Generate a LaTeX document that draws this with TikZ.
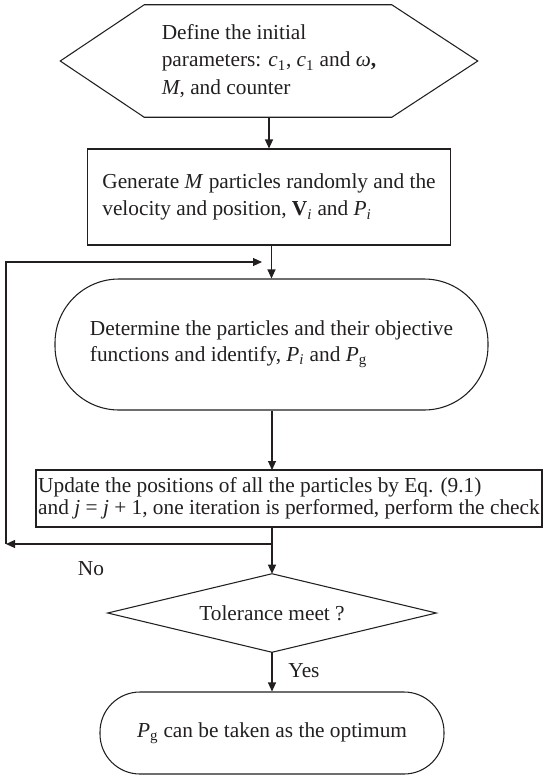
\documentclass[tikz,border=0pt]{standalone}
\usepackage{fontspec}
\setmainfont{Liberation Serif}
\usetikzlibrary{arrows.meta,shapes.misc}
\newlength\px
\setlength\px{0.75pt}
\definecolor{ink}{HTML}{231F20}
\tikzset{
  every node/.style={text=ink, inner sep=0pt, font=\fontsize{16}{20.5}\selectfont},
  line/.style={draw=ink, line width=0.8pt},
  arr/.style={line, -{Triangle[length=6.75pt,width=6pt]}},
  plainbox/.style={line, rectangle, align=left},
  roundbox/.style={line, rectangle, rounded corners=#1, align=left},
  shapebox/.style={rectangle, align=left},
  lbl/.style={}
}
\begin{document}
\begin{tikzpicture}[x=0.75pt, y=-0.75pt]
  \useasboundingbox (0,0) rectangle (544,776);

  % start: hexagon holding the initial parameters
  \node[shapebox, minimum width=417\px, minimum height=112\px] (hex) at (269,61)
    {Define the initial\\parameters: \textit{c}\textsubscript{1}, \textit{c}\textsubscript{1} and \textit{ω}\textbf{,}\\\textit{M}, and counter};
  \draw[line] (hex.west) -- ([xshift=84\px]hex.north west) -- ([xshift=-86\px]hex.north east)
    -- (hex.east) -- ([xshift=-86\px]hex.south east) -- ([xshift=84\px]hex.south west) -- cycle;

  % particle generation
  \node[plainbox, minimum width=363\px, minimum height=96\px] (gen) at (269,197)
    {Generate \textit{M} particles randomly and the\\velocity and position, \textbf{V}\textsubscript{\textit{i}} and \textit{P}\textsubscript{\textit{i}}};

  % evaluation of the objective functions
  \node[roundbox=48pt, minimum width=433\px, minimum height=131\px,
        font=\fontsize{16}{19}\selectfont] (det) at (271.5,344.5)
    {Determine the particles and their objective\\functions and identify, \textit{P}\textsubscript{\textit{i}} and \textit{P}\textsubscript{g}};

  % position update
  \node[plainbox, minimum width=506\px, minimum height=57\px,
        font=\fontsize{16}{16.5}\selectfont] (upd) at (289,498.5)
    {Update the positions of all the particles by Eq. (9.1)\\and \textit{j} = \textit{j} + 1, one iteration is performed, perform the check};

  % convergence test
  \node[shapebox, minimum width=328\px, minimum height=78\px] (tol) at (272,613) {Tolerance meet ?};
  \draw[line] (tol.north) -- (tol.east) -- (tol.south) -- (tol.west) -- cycle;

  % end
  \node[roundbox=30pt, minimum width=344\px, minimum height=82\px] (opt) at (272,733)
    {\textit{P}\textsubscript{g} can be taken as the optimum};

  % loop-back route
  \coordinate (j) at (272,544);
  \coordinate (lb) at (6,544);
  \coordinate (lt) at (262,262);
  \coordinate (ut) at (272,470);

  \draw[arr] (hex.south) -- (gen.north);
  \draw[arr] (gen.south -| det.north) -- (det.north);
  \draw[arr] (det.south -| ut) -- (ut);
  \draw[arr] (upd.south -| tol.north) -- (tol.north);
  \draw[arr] (j) -- (lb);
  \draw[arr] (lb) |- (lt);
  \draw[arr] (tol.south) -- (opt.north);

  \node[lbl] (no) at (91,569) {No};
  \node[lbl] (yes) at (304,671) {Yes};
\end{tikzpicture}
\end{document}
